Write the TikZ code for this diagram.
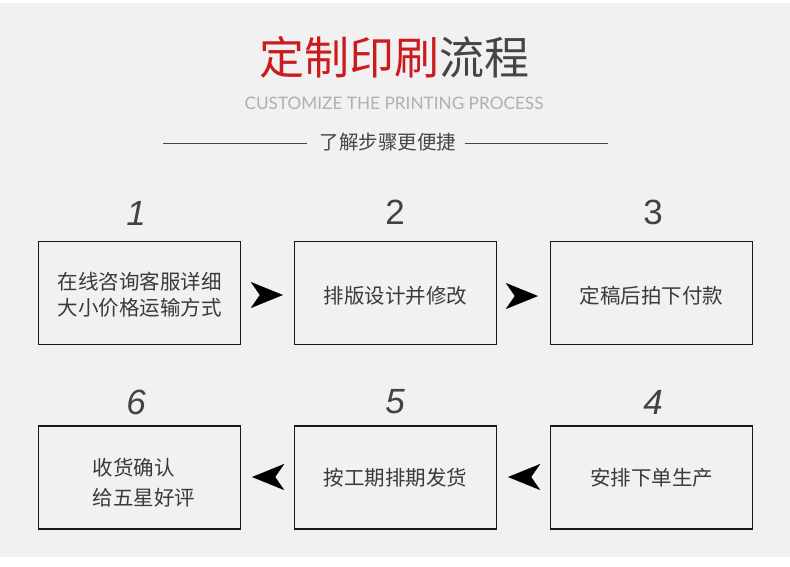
\documentclass[tikz,border=0pt]{standalone}
\usepackage{fontspec}
\setmainfont{Liberation Sans}
\newfontfamily\cjk{Noto Sans CJK SC}
\newfontfamily\latin{Lato}
\newfontfamily\numfont{Liberation Sans}
\usetikzlibrary{arrows.meta}
\definecolor{bg}{HTML}{F1F1F1}
\definecolor{titlered}{HTML}{CC1B1F}
\definecolor{titlegray}{HTML}{454545}
\definecolor{txt}{HTML}{3A3A3A}
\definecolor{subgray}{HTML}{B0B0B0}
\definecolor{numgray}{HTML}{424242}
\begin{document}
\begin{tikzpicture}[x=1pt,y=-1pt,
  stepbox/.style={draw=black!90, line width=1.3pt, fill=bg, minimum width=202pt, minimum height=103pt, inner sep=0pt},
  boxtext/.style={font=\cjk\fontsize{20.5}{27}\selectfont, text=txt, align=center},
  stepnum/.style={font=\numfont\fontsize{35}{35}\selectfont, text=numgray, inner sep=0pt},
  flow/.style={draw=bg, line width=0.1pt, -{Stealth[length=32pt, width=26pt, inset=9pt, color=black]}}
]
\useasboundingbox (0,0) rectangle (790,566);
\fill[white] (0,0) rectangle (790,566);
\fill[bg] (0,3) rectangle (790,557);

% title
\node[font=\cjk\fontsize{45}{45}\selectfont, inner sep=0pt] (title) at (394,57)
  {\textcolor{titlered}{定制印刷}\textcolor{titlegray}{流程}};
\node[font=\latin\fontsize{17.2}{18}\selectfont, text=subgray, inner sep=0pt] (sub) at (394,103)
  {CUSTOMIZE THE PRINTING PROCESS};
\node[font=\cjk\fontsize{19.5}{20}\selectfont, text=titlegray, inner sep=0pt] (tag) at (388,142) {了解步骤更便捷};
\coordinate (l1) at (163,143);
\coordinate (l2) at (307,143);
\coordinate (r1) at (465,143);
\coordinate (r2) at (608,143);
\draw[line width=0.8pt, titlegray] (l1) -- (l2);
\draw[line width=0.8pt, titlegray] (r1) -- (r2);

% boxes
\node[stepbox] (b1) at (139.5,293) {};
\node[stepbox] (b2) at (395.5,293) {};
\node[stepbox] (b3) at (651.5,293) {};
\node[stepbox] (b6) at (139.5,477.5) {};
\node[stepbox] (b5) at (395.5,477.5) {};
\node[stepbox] (b4) at (651.5,477.5) {};

% box texts
\node[boxtext, font=\cjk\fontsize{20.5}{26}\selectfont] (t1) at (139.5,295) {在线咨询客服详细\\大小价格运输方式};
\node[boxtext] (t2) at (395.5,296) {排版设计并修改};
\node[boxtext] (t3) at (651.5,296) {定稿后拍下付款};
\node[boxtext] (t4) at (651.5,478) {安排下单生产};
\node[boxtext] (t5) at (395.5,478) {按工期排期发货};
\node[boxtext, align=left, anchor=west, font=\cjk\fontsize{20.5}{30}\selectfont] (t6) at (89,483) {收货确认\\给五星好评};

% numbers
\node[stepnum, font=\numfont\itshape\fontsize{35}{35}\selectfont] (n1) at (136,213) {1};
\node[stepnum] (n2) at (395,212) {2};
\node[stepnum] (n3) at (653,212) {3};
\node[stepnum, font=\numfont\itshape\fontsize{35}{35}\selectfont] (n4) at (653,402) {4};
\node[stepnum, font=\numfont\itshape\fontsize{35}{35}\selectfont] (n5) at (395,402) {5};
\node[stepnum, font=\numfont\itshape\fontsize{35}{35}\selectfont] (n6) at (136,402) {6};

% arrows
\draw[flow, shorten <=10pt, shorten >=11pt] (b1.east |- 0,295) -- (b2.west |- 0,295);
\draw[flow, shorten <=10pt, shorten >=12pt] (b2.east |- 0,296) -- (b3.west |- 0,296);
\draw[flow, shorten <=11pt, shorten >=11pt] (b4.west |- 0,477) -- (b5.east |- 0,477);
\draw[flow, shorten <=10pt, shorten >=11pt] (b5.west |- 0,477) -- (b6.east |- 0,477);
\end{tikzpicture}
\end{document}
